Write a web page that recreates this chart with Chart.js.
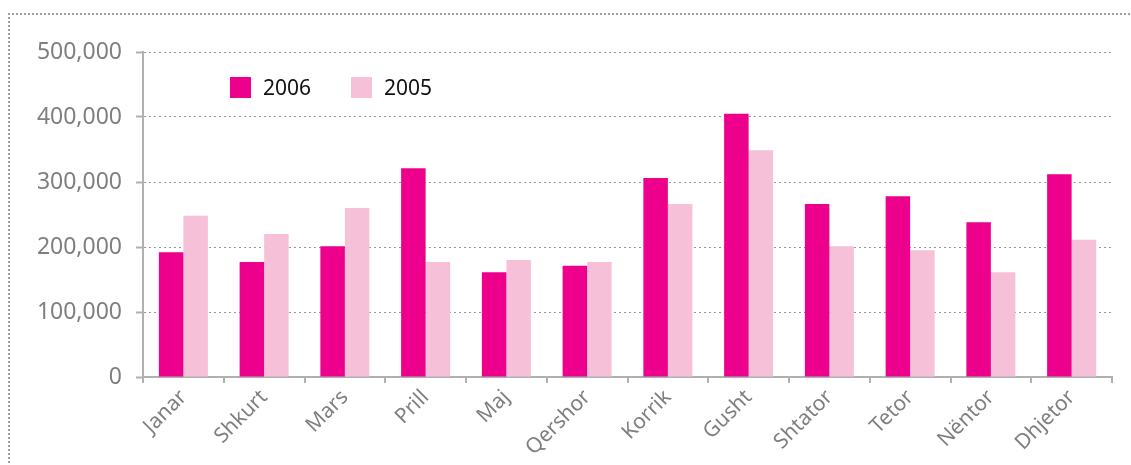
<!DOCTYPE html>
<html>
<head>
<meta charset="utf-8">
<script src="https://cdn.jsdelivr.net/npm/chart.js@4/dist/chart.umd.min.js"></script>
<style>
  html, body { margin: 0; padding: 0; background: #fff; }
  #wrap { position: relative; width: 1131px; height: 465px; overflow: hidden; }
  #frame { position: absolute; left: 8px; top: 13px; width: 1200px; height: 500px;
    border-top: 2px dotted #a0a0a0; border-left: 2px dotted #a0a0a0; }
  #chart { position: absolute; left: 0; top: 0; }
  #legend { position: absolute; left: 230px; top: 73px; display: flex; font-family: "Noto Sans", sans-serif; font-size: 21px; color: #111; }
  #legend .item { display: flex; align-items: center; margin-right: 40px; }
  #legend .box { width: 21px; height: 21px; margin-right: 12px; }
</style>
</head>
<body>
<div id="wrap">
  <div id="frame"></div>
  <canvas id="chart" width="1131" height="465"></canvas>
  <div id="legend"></div>
</div>
<script>
const months = ['Janar', 'Shkurt', 'Mars', 'Prill', 'Maj', 'Qershor', 'Korrik', 'Gusht', 'Shtator', 'Tetor', 'Nëntor', 'Dhjetor'];
const values2006 = [192000, 177000, 201000, 321000, 161000, 171000, 306000, 405000, 266000, 278000, 238000, 312000];
const values2005 = [248000, 220000, 260000, 177000, 180000, 177000, 266000, 349000, 201000, 195000, 161000, 211000];
const seriesNames = ['2006', '2005'];
const seriesColors = ['#ec008c', '#f7c0d9'];

document.addEventListener('DOMContentLoaded', function(){
  const ctx = document.getElementById('chart');
  const gray = '#7f7f7f';
  const family = '"Noto Sans", sans-serif';

  const chart = new Chart(ctx, {
    type: 'bar',
    data: {
      labels: months,
      datasets: [
        { label: seriesNames[0], data: values2006, backgroundColor: seriesColors[0] },
        { label: seriesNames[1], data: values2005, backgroundColor: seriesColors[1] }
      ]
    },
    options: {
      responsive: false,
      animation: false,
      layout: { padding: { top: 52, right: 19, left: 0, bottom: 0 } },
      datasets: { bar: { barPercentage: 1, categoryPercentage: 0.607 } },
      plugins: { legend: { display: false }, tooltip: { enabled: false } },
      scales: {
        x: {
          border: { color: '#b0b0b0', width: 2 },
          grid: { drawOnChartArea: false, drawTicks: true, tickLength: 6, tickColor: '#b0b0b0', lineWidth: 2, offset: true },
          ticks: { color: gray, font: { family: family, size: 21 }, maxRotation: 45, minRotation: 45, padding: 2 },
          afterFit: s => { s.height = 88; }
        },
        y: {
          min: 0, max: 500000,
          border: { color: '#b0b0b0', width: 2, dash: [2, 3] },
          grid: { color: '#999', tickBorderDash: [], tickColor: '#b0b0b0', tickLength: 7, tickWidth: 2, lineWidth: 1 },
          ticks: { stepSize: 100000, color: gray, font: { family: family, size: 23 }, padding: 14,
            callback: v => v.toLocaleString('en-US') },
          afterFit: s => { s.width = 143; }
        }
      }
    }
  });

  // legend built from the datasets
  const legend = document.getElementById('legend');
  chart.data.datasets.forEach(ds => {
    const item = document.createElement('div');
    item.className = 'item';
    item.innerHTML = '<span class="box" style="background:' + ds.backgroundColor + '"></span><span>' + ds.label + '</span>';
    legend.appendChild(item);
  });
});
</script>
</body>
</html>
